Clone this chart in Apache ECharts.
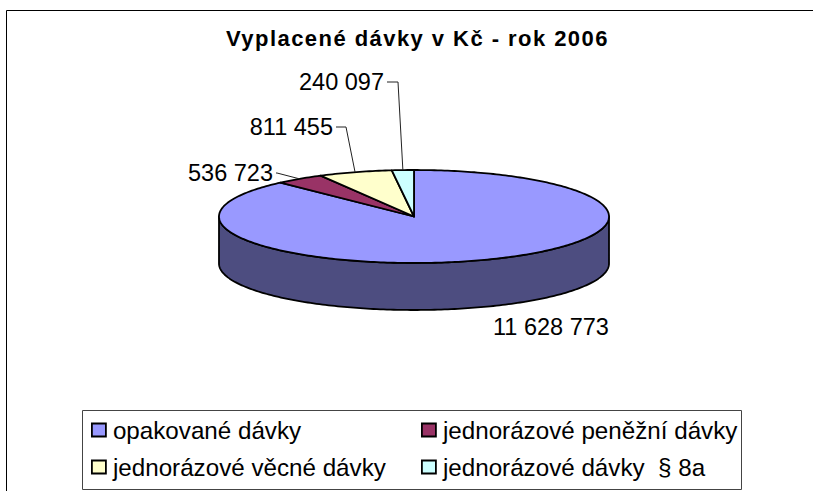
<!DOCTYPE html>
<html>
<head>
<meta charset="utf-8">
<title>Vyplacené dávky v Kč - rok 2006</title>
<script src="https://cdn.jsdelivr.net/npm/echarts@6/dist/echarts.min.js"></script>
<style>
  html, body { margin: 0; padding: 0; background: #fff; }
  #chart { width: 813px; height: 491px; }
</style>
</head>
<body>
<div id="chart"></div>
<script>
const titleText = 'Vyplacené dávky v Kč - rok 2006';
const categories = ['opakované dávky', 'jednorázové peněžní dávky', 'jednorázové věcné dávky', 'jednorázové dávky  § 8a'];
const values = [11628773, 536723, 811455, 240097];
const colors = ['#9999ff', '#993366', '#ffffcc', '#ccffff'];
const wallColor = '#4d4d80';

const FONT = '"Liberation Sans", Arial, sans-serif';

// pie geometry: tilted disc
const cx = 414, cy = 216.5, rx = 195, ry = 46.5, depth = 47;
// where the value labels sit, [text x, text centre y, align, elbow x]
const labelSpots = [
  [493, 327, 'left', null],
  [273, 173, 'right', 277],
  [333, 127, 'right', 346],
  [384, 82, 'right', 398]
];

const total = values.reduce((a, b) => a + b, 0);

function fmt(v) {
  return String(v).replace(/\B(?=(\d{3})+$)/g, ' ');
}

// angle is degrees clockwise from the top of the disc
function pt(deg, dy) {
  const r = deg * Math.PI / 180;
  return [cx + rx * Math.sin(r), cy - ry * Math.cos(r) + (dy || 0)];
}

function arc(a0, a1, dy) {
  const pts = [];
  const n = Math.max(2, Math.ceil(a1 - a0));
  for (let i = 0; i <= n; i++) pts.push(pt(a0 + (a1 - a0) * i / n, dy));
  return pts;
}

function makeRender(idx) {
  let start = 0;
  for (let i = 0; i < idx; i++) start += values[i] / total * 360;

  return function (params, api) {
    const end = start + api.value(0) / total * 360;
    const children = [];

    // front wall, only the part of the slice that faces the viewer
    const w0 = Math.max(start, 90), w1 = Math.min(end, 270);
    if (w1 > w0) {
      children.push({
        type: 'polygon',
        shape: { points: arc(w0, w1, 0).concat(arc(w0, w1, depth).reverse()) },
        style: { fill: wallColor, stroke: '#000', lineWidth: 1.8, lineJoin: 'round' }
      });
    }

    children.push({
      type: 'polygon',
      shape: { points: [[cx, cy]].concat(arc(start, end, 0)) },
      style: { fill: colors[idx], stroke: '#000', lineWidth: 1.8, lineJoin: 'round' }
    });

    const spot = labelSpots[idx];
    if (spot[3] !== null) {
      const m = pt((start + end) / 2);
      children.push({
        type: 'polyline',
        shape: { points: [[spot[0] + 3, spot[1]], [spot[3], spot[1]], m] },
        style: { fill: null, stroke: '#222', lineWidth: 1 }
      });
    }
    children.push({
      type: 'text',
      style: {
        x: spot[0], y: spot[1],
        text: fmt(api.value(0)),
        align: spot[2], verticalAlign: 'middle',
        fill: '#000', font: '23.5px ' + FONT
      }
    });

    return { type: 'group', children: children };
  };
}

// svg renderer so the title can take letter-spacing
const chart = echarts.init(document.getElementById('chart'), null, { renderer: 'svg' });

const legendBase = {
  orient: 'vertical',
  top: 418,
  itemWidth: 14,
  itemHeight: 13,
  itemGap: 13,
  icon: 'rect',
  selectedMode: false,
  padding: 0,
  textStyle: { fontFamily: FONT, fontSize: 24.2, color: '#000', padding: [0, 0, 0, 2] },
  itemStyle: { borderColor: '#000', borderWidth: 1.8 }
};

chart.setOption({
  animation: false,
  backgroundColor: '#fff',
  title: {
    text: titleText,
    left: 226,
    top: 27,
    padding: 0,
    textStyle: { fontFamily: FONT, fontSize: 22, fontWeight: 'bold', color: '#000' }
  },
  legend: [
    Object.assign({}, legendBase, { left: 91, data: [categories[0], categories[2]] }),
    Object.assign({}, legendBase, { left: 421, data: [categories[1], categories[3]] })
  ],
  graphic: [
    { type: 'polyline', silent: true, z: -1, shape: { points: [[6.5, 491], [6.5, 10.5], [813, 10.5]] }, style: { fill: null, stroke: '#000', lineWidth: 1 } },
    { type: 'rect', silent: true, z: -1, shape: { x: 82.5, y: 410.5, width: 659, height: 79 }, style: { fill: '#fff', stroke: '#444', lineWidth: 1 } }
  ],
  series: categories.map((name, i) => ({
    type: 'custom',
    name: name,
    coordinateSystem: 'none',
    silent: true,
    itemStyle: { color: colors[i] },
    data: [[values[i]]],
    renderItem: makeRender(i)
  }))
});

// the original title is tracked out
document.querySelectorAll('#chart text').forEach(function (t) {
  if (t.textContent === titleText) t.setAttribute('letter-spacing', '1.45');
});
</script>
</body>
</html>
